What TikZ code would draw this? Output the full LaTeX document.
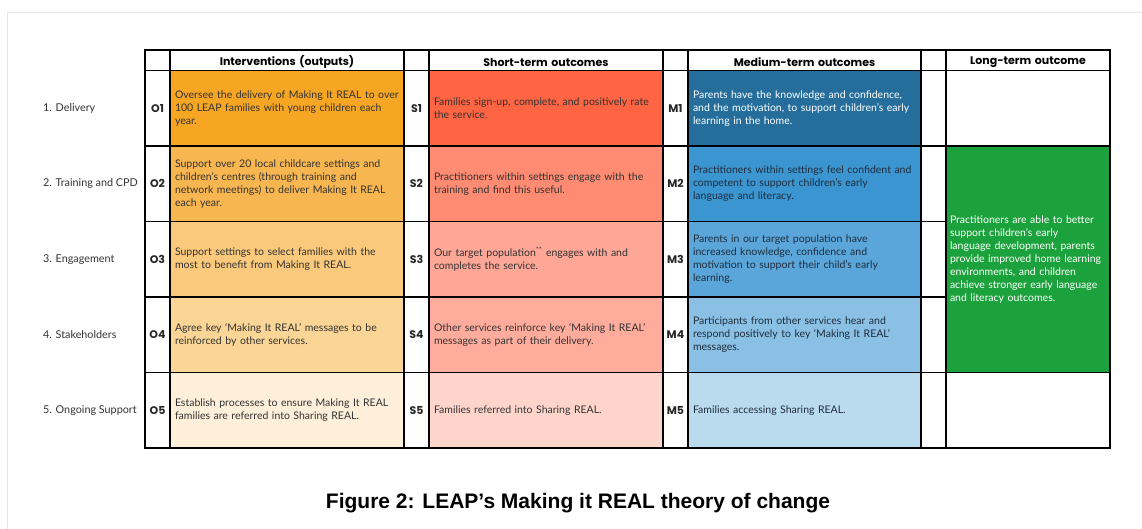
\documentclass[tikz,border=0pt]{standalone}
\usepackage{fontspec}
\setmainfont{Lato}
\newfontfamily\headfont{Poppins}
\newfontfamily\capfont{Liberation Sans}
\definecolor{oA}{HTML}{F6A623}
\definecolor{oB}{HTML}{F8B650}
\definecolor{oC}{HTML}{FAC97C}
\definecolor{oD}{HTML}{FBD595}
\definecolor{oE}{HTML}{FDEFD9}
\definecolor{sA}{HTML}{FF6443}
\definecolor{sB}{HTML}{FF8B73}
\definecolor{sC}{HTML}{FFA796}
\definecolor{sD}{HTML}{FFAC9C}
\definecolor{sE}{HTML}{FFD5CB}
\definecolor{mA}{HTML}{256E9C}
\definecolor{mB}{HTML}{3A95D0}
\definecolor{mC}{HTML}{5AA6DA}
\definecolor{mD}{HTML}{8AC0E4}
\definecolor{mE}{HTML}{BADBEE}
\definecolor{lgreen}{HTML}{1CA23C}
\definecolor{bodytext}{HTML}{333333}
\definecolor{bluetext}{HTML}{1F2D3D}
\definecolor{framegray}{HTML}{E6E6E6}
\newcommand\mkcell[7]{%
  \pgfmathsetmacro\celltw{#4-10}%
  \node[minimum width=#4pt, minimum height=#5pt, text width=\celltw pt, #6] (#1) at (#2,#3) {#7};}
\newcommand\hdtext[1]{\raisebox{-1.8pt}[\height][\depth]{#1}}
\begin{document}
\begin{tikzpicture}[x=1pt,y=-1pt,
  cell/.style={draw=black, line width=1.1pt, anchor=north west, inner xsep=5pt, inner ysep=0pt, outer sep=0pt, align=left, font=\fontsize{10.5}{13}\selectfont, text=bodytext},
  bluecell/.style={cell, text=bluetext},
  whitecell/.style={cell, text=white},
  codecell/.style={cell, fill=white, align=center, inner xsep=0pt, text width=25pt, font=\headfont\bfseries\fontsize{11}{12}\selectfont, text=black!85},
  headcell/.style={cell, fill=white, align=center, font=\headfont\bfseries\fontsize{11}{12}\selectfont, text=black},
  rowlabel/.style={anchor=west, inner sep=0pt, font=\fontsize{10.8}{12}\selectfont, text=bodytext},
  framestyle/.style={draw=framegray, line width=1.5pt}
]
\useasboundingbox (0,0) rectangle (1142,529);
\fill[white] (0,0) rectangle (1142,529);
\coordinate (fA) at (7.5,529);
\coordinate (fB) at (7.5,12.5);
\coordinate (fC) at (1142,12.5);
\draw[framestyle] (fA) -- (fB) -- (fC);
% header row
\mkcell{h0}{145}{50}{25}{20.5}{headcell}{}
\mkcell{h1}{170}{50}{234}{20.5}{headcell}{\hdtext{Interventions (outputs)}}
\mkcell{h2}{404}{50}{25}{20.5}{headcell}{}
\mkcell{h3}{429}{50}{234}{20.5}{headcell}{\hdtext{Short-term outcomes}}
\mkcell{h4}{663}{50}{25}{20.5}{headcell}{}
\mkcell{h5}{688}{50}{233}{20.5}{headcell}{\hdtext{Medium-term outcomes}}
\mkcell{h6}{921}{50}{25}{20.5}{headcell}{}
\mkcell{h7}{946}{50}{164}{20.5}{headcell}{\hdtext{Long-term outcome}}
% row 1
\mkcell{cO1}{145}{70.5}{25}{75.5}{codecell}{O1}
\mkcell{tO1}{170}{70.5}{234}{75.5}{cell,fill=oA}{Oversee the delivery of Making It REAL to over\\100 LEAP families with young children each\\year.}
\mkcell{cS1}{404}{70.5}{25}{75.5}{codecell}{S1}
\mkcell{tS1}{429}{70.5}{234}{75.5}{cell,fill=sA}{Families sign-up, complete, and positively rate\\the service.}
\mkcell{cM1}{663}{70.5}{25}{75.5}{codecell}{M1}
\mkcell{tM1}{688}{70.5}{233}{75.5}{whitecell,fill=mA}{Parents have the knowledge and confidence,\\and the motivation, to support children’s early\\learning in the home.}
\mkcell{cL1}{921}{70.5}{25}{75.5}{codecell}{}
\mkcell{tL1}{946}{70.5}{164}{75.5}{cell,fill=white}{}
% row 2
\mkcell{cO2}{145}{146}{25}{75.5}{codecell}{O2}
\mkcell{tO2}{170}{146}{234}{75.5}{cell,fill=oB}{Support over 20 local childcare settings and\\children’s centres (through training and\\network meetings) to deliver Making It REAL\\each year.}
\mkcell{cS2}{404}{146}{25}{75.5}{codecell}{S2}
\mkcell{tS2}{429}{146}{234}{75.5}{cell,fill=sB}{Practitioners within settings engage with the\\training and find this useful.}
\mkcell{cM2}{663}{146}{25}{75.5}{codecell}{M2}
\mkcell{tM2}{688}{146}{233}{75.5}{bluecell,fill=mB}{Practitioners within settings feel confident and\\competent to support children’s early\\language and literacy.}
\mkcell{cL2}{921}{146}{25}{75.5}{codecell}{}
% row 3
\mkcell{cO3}{145}{221.5}{25}{75.5}{codecell}{O3}
\mkcell{tO3}{170}{221.5}{234}{75.5}{cell,fill=oC}{Support settings to select families with the\\most to benefit from Making It REAL.}
\mkcell{cS3}{404}{221.5}{25}{75.5}{codecell}{S3}
\mkcell{tS3}{429}{221.5}{234}{75.5}{cell,fill=sC}{Our target population\textsuperscript{**} engages with and\\completes the service.}
\mkcell{cM3}{663}{221.5}{25}{75.5}{codecell}{M3}
\mkcell{tM3}{688}{221.5}{233}{75.5}{bluecell,fill=mC}{Parents in our target population have\\increased knowledge, confidence and\\motivation to support their child’s early\\learning.}
\mkcell{cL3}{921}{221.5}{25}{75.5}{codecell}{}
% row 4
\mkcell{cO4}{145}{297}{25}{75.5}{codecell}{O4}
\mkcell{tO4}{170}{297}{234}{75.5}{cell,fill=oD}{Agree key ‘Making It REAL’ messages to be\\reinforced by other services.}
\mkcell{cS4}{404}{297}{25}{75.5}{codecell}{S4}
\mkcell{tS4}{429}{297}{234}{75.5}{cell,fill=sD}{Other services reinforce key ‘Making It REAL’\\messages as part of their delivery.}
\mkcell{cM4}{663}{297}{25}{75.5}{codecell}{M4}
\mkcell{tM4}{688}{297}{233}{75.5}{bluecell,fill=mD}{Participants from other services hear and\\respond positively to key ‘Making It REAL’\\messages.}
\mkcell{cL4}{921}{297}{25}{75.5}{codecell}{}
% row 5
\mkcell{cO5}{145}{372.5}{25}{75.5}{codecell}{O5}
\mkcell{tO5}{170}{372.5}{234}{75.5}{cell,fill=oE}{Establish processes to ensure Making It REAL\\families are referred into Sharing REAL.}
\mkcell{cS5}{404}{372.5}{25}{75.5}{codecell}{S5}
\mkcell{tS5}{429}{372.5}{234}{75.5}{cell,fill=sE}{Families referred into Sharing REAL.}
\mkcell{cM5}{663}{372.5}{25}{75.5}{codecell}{M5}
\mkcell{tM5}{688}{372.5}{233}{75.5}{bluecell,fill=mE}{Families accessing Sharing REAL.}
\mkcell{cL5}{921}{372.5}{25}{75.5}{codecell}{}
\mkcell{tL5}{946}{372.5}{164}{75.5}{cell,fill=white}{}
% long-term outcome spanning rows 2-4
\mkcell{tL2}{946}{146}{164}{226.5}{whitecell,fill=lgreen,inner xsep=4pt,text width=156pt}{Practitioners are able to better\\support children’s early\\language development, parents\\provide improved home learning\\environments, and children\\achieve stronger early language\\and literacy outcomes.}
% row labels
\node[rowlabel] (r1) at (43,108.25) {1. Delivery};
\node[rowlabel] (r2) at (43,183.75) {2. Training and CPD};
\node[rowlabel] (r3) at (43,259.25) {3. Engagement};
\node[rowlabel] (r4) at (43,334.75) {4. Stakeholders};
\node[rowlabel] (r5) at (43,410.25) {5. Ongoing Support};
% caption
\node[font=\capfont\bfseries\fontsize{21}{23}\selectfont, text=black, inner sep=0pt] (cap) at (578,503) {Figure 2: LEAP’s Making it REAL theory of change};
\end{tikzpicture}
\end{document}
